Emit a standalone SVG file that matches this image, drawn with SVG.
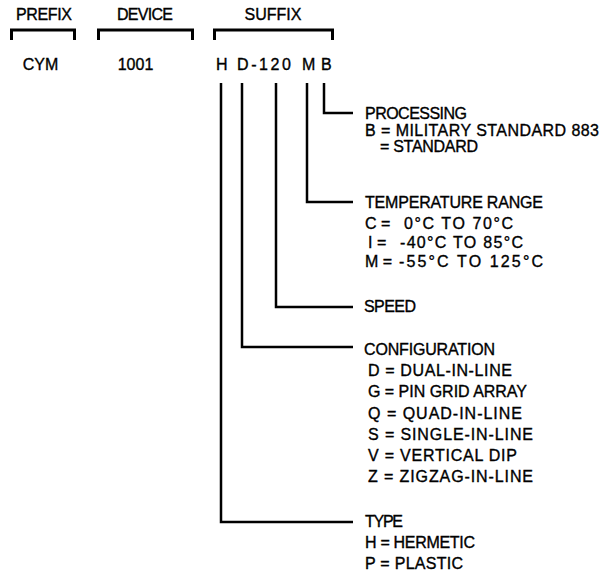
<svg xmlns="http://www.w3.org/2000/svg" width="607" height="574" viewBox="0 0 607 574">
<style>
  text { font-family: "Liberation Sans", Arial, sans-serif; font-size: 16px; fill: #000; stroke: #000; stroke-width: 0.35px; }
  .c { text-anchor: middle; }
  .br { fill: none; stroke: #000; stroke-width: 3; stroke-linejoin: miter; }
  .ln { fill: none; stroke: #000; stroke-width: 2.5; stroke-linejoin: miter; }
</style>
<rect width="607" height="574" fill="#fff"/>
<g id="header">
  <g id="prefix">
    <text class="c" x="44" y="20" textLength="56" lengthAdjust="spacing">PREFIX</text>
    <path class="br" d="M11.5,40 V30 H74.5 V40"/>
    <text class="c" x="40.5" y="70">CYM</text>
  </g>
  <g id="device">
    <text class="c" x="145" y="20" textLength="56" lengthAdjust="spacing">DEVICE</text>
    <path class="br" d="M98.5,40 V30 H192.5 V40"/>
    <text class="c" x="135.5" y="70">1001</text>
  </g>
  <g id="suffix">
    <text class="c" x="273" y="20" textLength="57" lengthAdjust="spacing">SUFFIX</text>
    <path class="br" d="M214.5,40 V30 H332.5 V40"/>
    <text x="216" y="70">H</text>
    <text x="237" y="70" textLength="54" lengthAdjust="spacing">D-120</text>
    <text x="302" y="70">M</text>
    <text x="321" y="70">B</text>
  </g>
</g>
<g id="connectors">
  <path class="ln" d="M324,83 V113 H353"/>
  <path class="ln" d="M307,83 V202 H353"/>
  <path class="ln" d="M276,83 V307 H353"/>
  <path class="ln" d="M242,83 V347 H353"/>
  <path class="ln" d="M221,83 V522 H353"/>
</g>
<g id="processing">
  <text x="365" y="119" textLength="102" lengthAdjust="spacing">PROCESSING</text>
  <text x="365" y="136" textLength="234" lengthAdjust="spacing">B = MILITARY STANDARD 883</text>
  <text x="380" y="152" textLength="98" lengthAdjust="spacing">= STANDARD</text>
</g>
<g id="temperature">
  <text x="365" y="208" textLength="178" lengthAdjust="spacing">TEMPERATURE RANGE</text>
  <text x="365" y="229">C =</text>
  <text x="404" y="229" textLength="109" lengthAdjust="spacing">0°C TO 70°C</text>
  <text x="368" y="248">I  =</text>
  <text x="400" y="248" textLength="123" lengthAdjust="spacing">-40°C TO 85°C</text>
  <text x="365" y="267">M =</text>
  <text x="399" y="267" textLength="144" lengthAdjust="spacing">-55°C TO 125°C</text>
</g>
<g id="speed">
  <text x="364" y="312" textLength="52" lengthAdjust="spacing">SPEED</text>
</g>
<g id="configuration">
  <text x="364" y="355" textLength="131" lengthAdjust="spacing">CONFIGURATION</text>
  <text x="368" y="376" textLength="144" lengthAdjust="spacing">D = DUAL-IN-LINE</text>
  <text x="368" y="397" textLength="159" lengthAdjust="spacing">G = PIN GRID ARRAY</text>
  <text x="368" y="419" textLength="154" lengthAdjust="spacing">Q = QUAD-IN-LINE</text>
  <text x="368" y="440" textLength="165" lengthAdjust="spacing">S = SINGLE-IN-LINE</text>
  <text x="368" y="461" textLength="149" lengthAdjust="spacing">V = VERTICAL DIP</text>
  <text x="368" y="482" textLength="165" lengthAdjust="spacing">Z = ZIGZAG-IN-LINE</text>
</g>
<g id="type">
  <text x="365" y="527" textLength="38" lengthAdjust="spacing">TYPE</text>
  <text x="365" y="548" textLength="110" lengthAdjust="spacing">H = HERMETIC</text>
  <text x="365" y="569" textLength="98" lengthAdjust="spacing">P = PLASTIC</text>
</g>
</svg>
